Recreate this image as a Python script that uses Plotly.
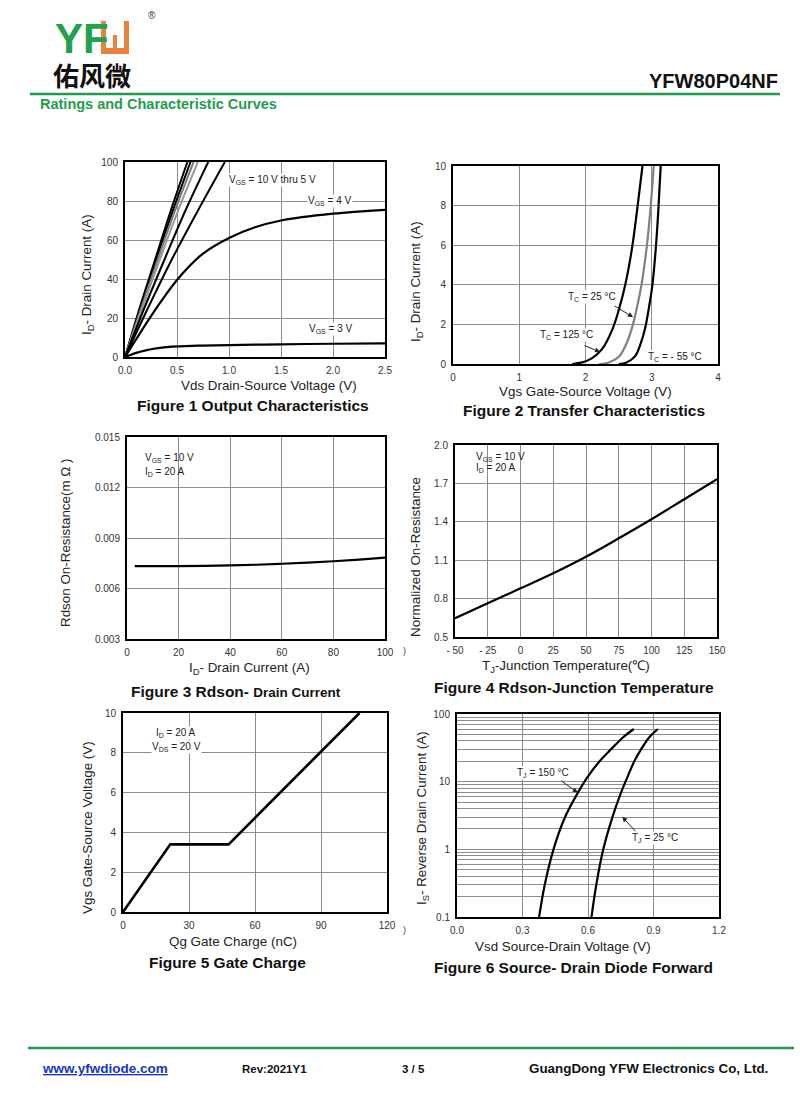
import numpy as np
import plotly.graph_objects as go

# ---------------- data ----------------
# Figure 1 Output Characteristics (Vds in V, Id in A)
id_lin = [0, 25, 50, 75, 100]
vds_vgs10 = [0, 0.14, 0.29, 0.44, 0.60]
vds_vgs9 = [0, 0.15, 0.30, 0.46, 0.63]
vds_vgs8 = [0, 0.155, 0.315, 0.48, 0.66]
vds_vgs7 = [0, 0.165, 0.335, 0.51, 0.70]
vds_vgs6 = [0, 0.185, 0.38, 0.58, 0.80]
vds_vgs5 = [0, 0.22, 0.45, 0.70, 0.96]
vds_vgs4 = [0, 0.1, 0.25, 0.4, 0.5, 0.6, 0.75, 1.0, 1.25, 1.5, 2.0, 2.5]
id_vgs4 = [0, 8.5, 21, 32.5, 39.5, 45.5, 53, 61, 66.5, 70, 73.5, 75.5]
vds_vgs3 = [0, 0.05, 0.1, 0.2, 0.3, 0.45, 0.7, 1.0, 1.5, 2.0, 2.5]
id_vgs3 = [0, 1.0, 2.0, 3.4, 4.4, 5.3, 5.8, 6.1, 6.5, 6.8, 7.0]

# Figure 2 Transfer Characteristics (Vgs in V, Id in A)
vgs_tc125 = [1.8, 1.95, 2.1, 2.25, 2.4, 2.5, 2.6, 2.7, 2.78, 2.86]
id_tc125 = [0, 0.08, 0.3, 0.75, 1.7, 2.7, 4.0, 5.8, 7.8, 10]
vgs_tc25 = [2.2, 2.35, 2.5, 2.6, 2.7, 2.78, 2.85, 2.92, 2.98, 3.03]
id_tc25 = [0, 0.08, 0.35, 0.9, 1.8, 2.9, 4.1, 5.8, 7.8, 10]
vgs_tcm55 = [2.5, 2.62, 2.75, 2.83, 2.9, 2.96, 3.01, 3.06, 3.1, 3.135]
id_tcm55 = [0, 0.08, 0.4, 1.0, 1.8, 2.9, 4.0, 5.8, 7.8, 10]

# Figure 3 Rdson vs Drain Current
id_f3 = [3, 10, 20, 30, 40, 50, 60, 70, 80, 90, 100]
rdson_f3 = [0.00733, 0.00733, 0.00733, 0.00734, 0.00737, 0.00741, 0.00747,
            0.00754, 0.00762, 0.00772, 0.00783]

# Figure 4 Normalized Rdson vs Junction Temperature
tj_f4 = [-50, -25, 0, 25, 50, 75, 100, 125, 150]
rnorm_f4 = [0.646, 0.763, 0.88, 0.998, 1.127, 1.271, 1.42, 1.576, 1.732]

# Figure 5 Gate Charge
qg_f5 = [0, 21.5, 48, 107.5]
vgs_f5 = [0, 3.4, 3.4, 10]

# Figure 6 Source-Drain Diode Forward
is_f6 = [0.1, 0.3, 1, 3, 7, 12, 20, 30, 45, 60]
vsd_tj150 = [0.376, 0.402, 0.442, 0.495, 0.555, 0.600, 0.653, 0.705, 0.760, 0.81]
vsd_tj25 = [0.616, 0.638, 0.670, 0.712, 0.752, 0.782, 0.812, 0.843, 0.880, 0.92]

# tick labels
f1_xticks = [0, 0.5, 1.0, 1.5, 2.0, 2.5]
f1_xtext = ["0.0", "0.5", "1.0", "1.5", "2.0", "2.5"]
f1_yticks = [0, 20, 40, 60, 80, 100]
f2_xticks = [0, 1, 2, 3, 4]
f2_yticks = [0, 2, 4, 6, 8, 10]
f3_xticks = [0, 20, 40, 60, 80, 100]
f3_yticks = [0.003, 0.006, 0.009, 0.012, 0.015]
f3_ytext = ["0.003", "0.006", "0.009", "0.012", "0.015"]
f4_xticks = [-50, -25, 0, 25, 50, 75, 100, 125, 150]
f4_xtext = ["- 50", "- 25", "0", "25", "50", "75", "100", "125", "150"]
f4_yticks = [0.5, 0.8, 1.1, 1.4, 1.7, 2.0]
f4_ytext = ["0.5", "0.8", "1.1", "1.4", "1.7", "2.0"]
f5_xticks = [0, 30, 60, 90, 120]
f5_yticks = [0, 2, 4, 6, 8, 10]
f6_xticks = [0, 0.3, 0.6, 0.9, 1.2]
f6_xtext = ["0.0", "0.3", "0.6", "0.9", "1.2"]
f6_yticks = [0.1, 1, 10, 100]
f6_ytext = ["0.1", "1", "10", "100"]
f6_yminor = [0.2, 0.3, 0.4, 0.5, 0.6, 0.7, 0.8, 0.9,
             2, 3, 4, 5, 6, 7, 8, 9,
             20, 30, 40, 50, 60, 70, 80, 90]

# ---------------- layout helpers ----------------
W, H = 800, 1108
FONT = "Liberation Sans, Arial, sans-serif"
GREEN = "#1f9d4f"


def px(x):
    return x / W


def py(y):
    return 1 - y / H


boxes = {1: (125, 385, 162, 357), 2: (453, 718, 166, 364),
         3: (127, 385, 437, 639), 4: (455, 717, 445, 637),
         5: (123, 387, 713, 912), 6: (457, 719, 714, 917)}


def xr(n):
    return "x" if n == 1 else f"x{n}"


def yr(n):
    return "y" if n == 1 else f"y{n}"


fig = go.Figure()


def add_line(n, x, y, color="black", width=2.2, shape="spline"):
    fig.add_trace(go.Scatter(x=x, y=y, mode="lines", xaxis=xr(n), yaxis=yr(n),
                             line=dict(color=color, width=width, shape=shape),
                             showlegend=False, hoverinfo="skip"))


# Figure 1
for xs, col in [(vds_vgs10, "black"), (vds_vgs9, "black"), (vds_vgs8, "#777"),
                (vds_vgs7, "#999"), (vds_vgs6, "black"), (vds_vgs5, "black")]:
    add_line(1, xs, id_lin, col, 2)
add_line(1, vds_vgs4, id_vgs4)
add_line(1, vds_vgs3, id_vgs3)
# Figure 2
add_line(2, vgs_tc125, id_tc125)
add_line(2, vgs_tc25, id_tc25, "#808080")
add_line(2, vgs_tcm55, id_tcm55)
# Figure 3
add_line(3, id_f3, rdson_f3)
# Figure 4
add_line(4, tj_f4, rnorm_f4)
# Figure 5
add_line(5, qg_f5, vgs_f5, shape="linear", width=2.6)
# Figure 6
add_line(6, vsd_tj150, is_f6)
add_line(6, vsd_tj25, is_f6)

tickfont = dict(family=FONT, size=10, color="#333")


def axis(n, which, rng, tickvals, ticktext=None, **kw):
    x0, x1, y0, y1 = boxes[n]
    if which == "x":
        dom = [px(x0), px(x1)]
        anchor = yr(n)
    else:
        dom = [py(y1), py(y0)]
        anchor = xr(n)
    d = dict(domain=dom, anchor=anchor, range=rng, showline=True, mirror=True,
             linecolor="black", linewidth=2, showgrid=True, gridcolor="#8c8c8c",
             gridwidth=1, zeroline=False, ticks="", tickfont=tickfont,
             tickmode="array", tickvals=tickvals,
             ticktext=ticktext if ticktext is not None else [str(v) for v in tickvals],
             fixedrange=True, ticklabelstandoff=3, automargin=False)
    d.update(kw)
    return d


lay = {}
lay["xaxis"] = axis(1, "x", [0, 2.5], f1_xticks, f1_xtext)
lay["yaxis"] = axis(1, "y", [0, 100], f1_yticks)
lay["xaxis2"] = axis(2, "x", [0, 4], f2_xticks)
lay["yaxis2"] = axis(2, "y", [0, 10], f2_yticks)
lay["xaxis3"] = axis(3, "x", [0, 100], f3_xticks)
lay["yaxis3"] = axis(3, "y", [0.003, 0.015], f3_yticks, f3_ytext)
lay["xaxis4"] = axis(4, "x", [-50, 150], f4_xticks, f4_xtext)
lay["yaxis4"] = axis(4, "y", [0.5, 2.0], f4_yticks, f4_ytext)
lay["xaxis5"] = axis(5, "x", [0, 120], f5_xticks)
lay["yaxis5"] = axis(5, "y", [0, 10], f5_yticks)
lay["xaxis6"] = axis(6, "x", [0, 1.2], f6_xticks, f6_xtext)
lay["yaxis6"] = axis(6, "y", [-1, 2], f6_yticks, f6_ytext, type="log",
                     minor=dict(tickmode="array", tickvals=f6_yminor, showgrid=True,
                                gridcolor="#8c8c8c", gridwidth=1, ticks=""))

ann = []


def text(x, y, t, size=13.4, color="#222", bold=False, xanchor="center", angle=0,
         family=FONT, yanchor="middle"):
    if bold:
        t = f"<b>{t}</b>"
    ann.append(dict(x=px(x), y=py(y), xref="paper", yref="paper", text=t,
                    showarrow=False, xanchor=xanchor, yanchor=yanchor, textangle=angle,
                    font=dict(family=family, size=size, color=color)))


def dtext(n, x, y, t, size=10, xanchor="center", bg="white"):
    ann.append(dict(x=x, y=y, xref=xr(n), yref=yr(n), text=t, showarrow=False,
                    xanchor=xanchor, yanchor="middle", bgcolor=bg, borderpad=0,
                    font=dict(family=FONT, size=size, color="#222")))


def arrow(n, x, y, ax, ay):
    ann.append(dict(x=x, y=y, ax=ax, ay=ay, xref=xr(n), yref=yr(n), axref=xr(n),
                    ayref=yr(n), text="", showarrow=True, arrowhead=2, arrowsize=1,
                    arrowwidth=1, arrowcolor="#222"))


# axis titles
text(269, 385, "Vds Drain-Source Voltage (V)")
text(87, 275, "I<sub>D</sub>- Drain Current (A)", angle=-90)
text(585, 391, "Vgs Gate-Source Voltage (V)")
text(416, 282, "I<sub>D</sub>- Drain Current (A)", angle=-90)
text(249, 668, "I<sub>D</sub>- Drain Current (A)")
text(65, 543, "Rdson On-Resistance(m Ω )", angle=-90)
text(566, 666, "T<sub>J</sub>-Junction Temperature(℃)")
text(415, 557, "Normalized On-Resistance", angle=-90)
text(233, 941, "Qg Gate Charge (nC)")
text(87, 828, "Vgs Gate-Source Voltage (V)", angle=-90)
text(563, 946, "Vsd Source-Drain Voltage (V)")
text(422, 818, "I<sub>S</sub>- Reverse Drain Current (A)", angle=-90)

# captions
CAP = 15.5
text(253, 405, "Figure 1 Output Characteristics", size=CAP, color="#111", bold=True)
text(584, 411, "Figure 2 Transfer Characteristics", size=CAP, color="#111", bold=True)
text(236, 691, "Figure 3 Rdson- <span style='font-size:13.5px'>Drain Current</span>",
     size=CAP, color="#111", bold=True)
text(574, 687, "Figure 4 Rdson-Junction Temperature", size=CAP, color="#111", bold=True)
text(228, 962, "Figure 5 Gate Charge", size=CAP, color="#111", bold=True)
text(573, 967, "Figure 6 Source- Drain Diode Forward", size=CAP, color="#111", bold=True)

# stray clipped characters
text(404, 651, ")", size=9, color="#444")
text(404, 930, ")", size=9, color="#444")

# in-plot labels
dtext(1, 1.42, 90.8, "V<sub>GS</sub> = 10 V thru 5 V")
dtext(1, 1.97, 80, "V<sub>GS</sub> = 4 V")
dtext(1, 1.98, 14.4, "V<sub>GS</sub> = 3 V")
dtext(2, 2.10, 3.38, "T<sub>C</sub> = 25 °C")
arrow(2, 2.717, 2.37, 2.415, 2.98)
dtext(2, 1.72, 1.46, "T<sub>C</sub> = 125 °C")
arrow(2, 2.219, 0.61, 1.962, 0.96)
dtext(2, 3.35, 0.35, "T<sub>C</sub> = - 55 °C")
dtext(3, 6.5, 0.01375, "V<sub>GS</sub> = 10 V", xanchor="left", bg="rgba(0,0,0,0)")
dtext(3, 6.5, 0.01292, "I<sub>D</sub> = 20 A", xanchor="left", bg="rgba(0,0,0,0)")
dtext(4, -34.7, 1.906, "V<sub>GS</sub> = 10 V", xanchor="left", bg="rgba(0,0,0,0)")
dtext(4, -34.7, 1.82, "I<sub>D</sub> = 20 A", xanchor="left", bg="rgba(0,0,0,0)")
dtext(5, 24.1, 9.0, "I<sub>D</sub> = 20 A")
dtext(5, 24.1, 8.29, "V<sub>DS</sub> = 20 V")
dtext(6, 0.3925, np.log10(13.5), "T<sub>J</sub> = 150 °C")
arrow(6, 0.553, np.log10(6.9), 0.47, np.log10(10.7))
dtext(6, 0.905, np.log10(1.48), "T<sub>J</sub> = 25 °C")
arrow(6, 0.757, np.log10(3.03), 0.823, np.log10(1.76))

# header
LOGO_FONT = "Liberation Sans Narrow, Liberation Sans, Arial"
text(92, 75, "<b>佑风微</b>", size=26, color="#111", family="Noto Sans CJK SC")
text(53, 38, "<b>YF</b>", size=42, color="#23a04b", xanchor="left", family=LOGO_FONT)
text(152, 16, "®", size=10, color="#333")
text(38, 104, "Ratings and Characteristic Curves", size=14.5, color=GREEN, bold=True,
     xanchor="left")
text(780, 81, "YFW80P04NF", size=20, color="#111", bold=True, xanchor="right")

# footer
text(40, 1068, "<u>www.yfwdiode.com</u>", size=13.5, color="#1535c8", bold=True,
     xanchor="left")
text(240, 1069, "Rev:2021Y1", size=11.5, color="#111", bold=True, xanchor="left")
text(400, 1069, "3 / 5", size=11.5, color="#111", bold=True, xanchor="left")
text(770, 1068, "GuangDong YFW Electronics Co, Ltd.", size=13.4, color="#111", bold=True,
     xanchor="right")

shapes = []
# header and footer rules
shapes.append(dict(type="line", xref="paper", yref="paper", x0=px(30), x1=px(780),
                   y0=py(94), y1=py(94), line=dict(color=GREEN, width=2.5)))
shapes.append(dict(type="line", xref="paper", yref="paper", x0=px(28), x1=px(794),
                   y0=py(1048), y1=py(1048), line=dict(color=GREEN, width=2.5)))
# orange logo glyph
ORANGE = "#e9833b"
shapes.append(dict(type="rect", xref="paper", yref="paper", x0=px(101), x1=px(129),
                   y0=py(54), y1=py(21), fillcolor=ORANGE, line=dict(width=0)))
shapes.append(dict(type="rect", xref="paper", yref="paper", x0=px(106), x1=px(124),
                   y0=py(48), y1=py(21), fillcolor="white", line=dict(width=0)))
shapes.append(dict(type="rect", xref="paper", yref="paper", x0=px(113), x1=px(117),
                   y0=py(48), y1=py(35), fillcolor=ORANGE, line=dict(width=0)))

fig.update_layout(**lay)
fig.update_layout(width=W, height=H, autosize=False,
                  margin=dict(l=0, r=0, t=0, b=0, pad=0, autoexpand=False),
                  paper_bgcolor="white", plot_bgcolor="white",
                  annotations=ann, shapes=shapes, showlegend=False,
                  font=dict(family=FONT))

fig.write_html("out.html", config={"displayModeBar": False},
               post_script="document.body.style.margin='0px';document.body.style.padding='0px';")
